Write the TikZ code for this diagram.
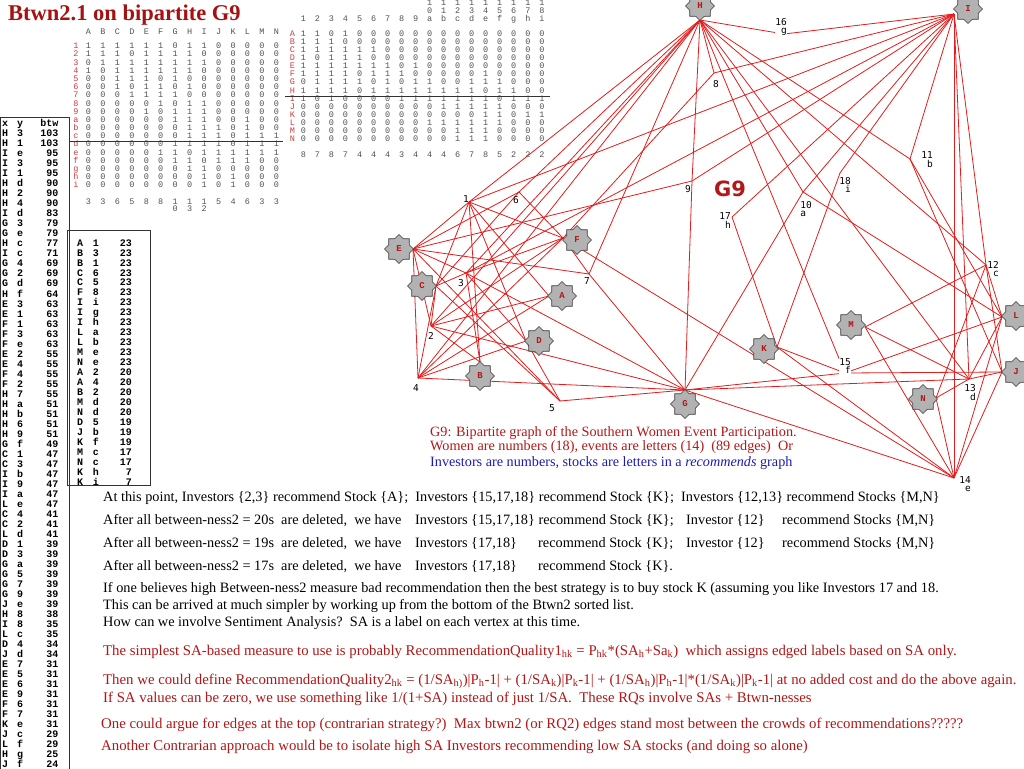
\documentclass[tikz,border=0pt]{standalone}
\usepackage{fontspec}
\usepackage{array}
\usetikzlibrary{shapes.geometric}
\setmainfont{Liberation Serif}
\newfontfamily\monofont{Liberation Mono}
\newfontfamily\wfont{DejaVu Sans Mono}
\newfontfamily\gnfont{DejaVu Sans}
\definecolor{edgered}{RGB}{228,28,28}
\definecolor{titlered}{RGB}{165,18,18}
\definecolor{capred}{RGB}{178,24,24}
\definecolor{capblue}{RGB}{28,28,178}
\definecolor{labred}{RGB}{205,60,60}
\definecolor{gearfill}{RGB}{178,178,178}
\definecolor{btred}{RGB}{178,22,22}
\newcolumntype{Q}[1]{>{\centering\arraybackslash}p{#1}}
\newcolumntype{R}[1]{>{\raggedleft\arraybackslash}p{#1}}
\newcolumntype{L}[1]{>{\raggedright\arraybackslash}p{#1}}
\newcolumntype{P}[1]{>{\centering\arraybackslash\leavevmode\color{labred}}p{#1}}
\newcommand\rowpitch[2]{\setbox\strutbox\hbox{\vrule height #1 depth #2 width 0pt}\renewcommand\arraystretch{1}\setlength\tabcolsep{0pt}}
\tikzset{
 gear/.style={star, star points=8, star point ratio=1.3, minimum size=29pt, inner sep=0pt, draw=black!75, line width=0.6pt, fill=gearfill, text=btred, font=\monofont\bfseries\fontsize{9}{9}\selectfont},
 wlab/.style={inner sep=0.3pt, font=\wfont\fontsize{9.5}{8.8}\selectfont, align=right},
 edge/.style={draw=edgered, line width=0.8pt},
 rulel/.style={draw=black!80, line width=1pt},
 btxt/.style={anchor=base west, inner sep=0pt, font=\fontsize{14.3}{15}\selectfont},
 rtxt/.style={anchor=base west, inner sep=0pt, text=btred, font=\fontsize{14.8}{15}\selectfont},
 captxt/.style={anchor=base west, inner sep=0pt, font=\fontsize{14.2}{15}\selectfont},
}
\begin{document}
\begin{tikzpicture}[x=1pt,y=-1pt]
\useasboundingbox (0,0) rectangle (1024,768);
\fill[white] (0,0) rectangle (1024,768);

% title
\node[anchor=base west, inner sep=0, font=\bfseries\fontsize{22.5}{24}\selectfont, text=titlered] (title) at (8,20.5) {Btwn2.1 on bipartite G9};

% left btw table
\draw[rulel] (0.5,117.3) -- (69,117.3) -- (69,770);
\draw[rulel] (0.5,117.3) -- (0.5,770);
\node[anchor=base west, inner sep=0, font=\monofont\bfseries\fontsize{10}{10}\selectfont] (btwtab) at (2,126.8) {\rowpitch{7.2pt}{2.8pt}%
\begin{tabular}[t]{@{}L{15pt}L{15pt}R{26.3pt}@{}}
x&y&btw\\ H&3&103\\ H&1&103\\ I&e&95\\ I&3&95\\ I&1&95\\ H&d&90\\ H&2&90\\ H&4&90\\ I&d&83\\ G&3&79\\ G&e&79\\ H&c&77\\ I&c&71\\ G&4&69\\ G&2&69\\ G&d&69\\ H&f&64\\ E&3&63\\ E&1&63\\ F&1&63\\ F&3&63\\ F&e&63\\ E&2&55\\ E&4&55\\ F&4&55\\ F&2&55\\ H&7&55\\ H&a&51\\ H&b&51\\ H&6&51\\ H&9&51\\ G&f&49\\ C&1&47\\ C&3&47\\ I&b&47\\ I&9&47\\ I&a&47\\ L&e&47\\ C&4&41\\ C&2&41\\ L&d&41\\ D&1&39\\ D&3&39\\ G&a&39\\ G&5&39\\ G&7&39\\ G&9&39\\ J&e&39\\ H&8&38\\ I&8&35\\ L&c&35\\ D&4&34\\ J&d&34\\ E&7&31\\ E&5&31\\ E&6&31\\ E&9&31\\ F&6&31\\ F&7&31\\ K&e&31\\ J&c&29\\ L&f&29\\ H&g&25\\ J&f&24
\end{tabular}};

% second table
\draw[rulel] (67.5,230.5) rectangle (150,485);
\node[anchor=base west, inner sep=0, font=\monofont\bfseries\fontsize{10}{10}\selectfont] (tabA) at (77,246.3) {\rowpitch{7.1pt}{2.8pt}%
\begin{tabular}[t]{@{}L{15.7pt}L{15pt}R{24pt}@{}}
A&1&23\\ B&3&23\\ B&1&23\\ C&6&23\\ C&5&23\\ F&8&23\\ I&i&23\\ I&g&23\\ I&h&23\\ L&a&23\\ L&b&23\\ M&e&23\\ N&e&23\\ A&2&20\\ A&4&20\\ B&2&20\\ M&d&20\\ N&d&20\\ D&5&19\\ J&b&19\\ K&f&19\\ M&c&17\\ N&c&17\\ K&h&7\\ K&i&7
\end{tabular}};

% matrix 1 (women x events)
\node[anchor=base west, inner sep=0, font=\monofont\fontsize{8.5}{8.5}\selectfont, text=black!68] (mat1) at (70.33,34.8) {\rowpitch{6.4pt}{1.78pt}%
\begin{tabular}[t]{@{}P{10.74pt}*{14}{Q{14.46pt}}@{}}
 &A&B&C&D&E&F&G&H&I&J&K&L&M&N\\[5.82pt]
1&1&1&1&1&1&1&0&1&1&0&0&0&0&0\\
2&1&1&1&0&1&1&1&1&0&0&0&0&0&0\\
3&0&1&1&1&1&1&1&1&1&0&0&0&0&0\\
4&1&0&1&1&1&1&1&1&0&0&0&0&0&0\\
5&0&0&1&1&1&0&1&0&0&0&0&0&0&0\\
6&0&0&1&0&1&1&0&1&0&0&0&0&0&0\\
7&0&0&0&1&1&1&1&0&0&0&0&0&0&0\\
8&0&0&0&0&0&1&0&1&1&0&0&0&0&0\\
9&0&0&0&0&1&0&1&1&1&0&0&0&0&0\\
a&0&0&0&0&0&0&1&1&1&0&0&1&0&0\\
b&0&0&0&0&0&0&0&1&1&1&0&1&0&0\\
c&0&0&0&0&0&0&0&1&1&1&0&1&1&1\\
d&0&0&0&0&0&0&1&1&1&1&0&1&1&1\\
e&0&0&0&0&0&1&1&0&1&1&1&1&1&1\\
f&0&0&0&0&0&0&1&1&0&1&1&1&0&0\\
g&0&0&0&0&0&0&0&1&1&0&0&0&0&0\\
h&0&0&0&0&0&0&0&0&1&0&1&0&0&0\\
i&0&0&0&0&0&0&0&0&1&0&1&0&0&0\\[8.47pt]
 &3&3&6&5&8&8&1&1&1&5&4&6&3&3\\[-0.9pt]
 & & & & & & &0&3&2& & & & & 
\end{tabular}};

% matrix 2 (events x women)
\node[anchor=base west, inner sep=0, font=\monofont\fontsize{8.5}{8.5}\selectfont, text=black!68] (mat2) at (288.3,5.5) {\rowpitch{6.4pt}{1.73pt}%
\begin{tabular}[t]{@{}P{7.98pt}*{18}{Q{14.02pt}}@{}}
 & & & & & & & & & &1&1&1&1&1&1&1&1&1\\[-0.33pt]
 & & & & & & & & & &0&1&2&3&4&5&6&7&8\\[-0.33pt]
 &1&2&3&4&5&6&7&8&9&a&b&c&d&e&f&g&h&i\\[6.87pt]
A&1&1&0&1&0&0&0&0&0&0&0&0&0&0&0&0&0&0\\
B&1&1&1&0&0&0&0&0&0&0&0&0&0&0&0&0&0&0\\
C&1&1&1&1&1&1&0&0&0&0&0&0&0&0&0&0&0&0\\
D&1&0&1&1&1&0&0&0&0&0&0&0&0&0&0&0&0&0\\
E&1&1&1&1&1&1&1&0&1&0&0&0&0&0&0&0&0&0\\
F&1&1&1&1&0&1&1&1&0&0&0&0&0&1&0&0&0&0\\
G&0&1&1&1&1&0&1&0&1&1&0&0&1&1&1&0&0&0\\
H&1&1&1&1&0&1&1&1&1&1&1&1&1&0&1&1&0&0\\
I&1&0&1&0&0&0&0&1&1&1&1&1&1&1&0&1&1&1\\
J&0&0&0&0&0&0&0&0&0&0&1&1&1&1&1&0&0&0\\
K&0&0&0&0&0&0&0&0&0&0&0&0&0&1&1&0&1&1\\
L&0&0&0&0&0&0&0&0&0&1&1&1&1&1&1&0&0&0\\
M&0&0&0&0&0&0&0&0&0&0&0&1&1&1&0&0&0&0\\
N&0&0&0&0&0&0&0&0&0&0&0&1&1&1&0&0&0&0\\[7.87pt]
 &8&7&8&7&4&4&4&3&4&4&4&6&7&8&5&2&2&2
\end{tabular}};

\draw[rulel] (69,141) -- (283,141);
\draw[rulel] (285,96) -- (550,96);

% ---------- graph ----------
% women vertices
\coordinate (w1) at (469,202);
\coordinate (w2) at (431,326);
\coordinate (w3) at (466,273);
\coordinate (w4) at (418,378);
\coordinate (w5) at (560,401);
\coordinate (w6) at (519,192);
\coordinate (w7) at (589,274);
\coordinate (w8) at (714,73);
\coordinate (w9) at (692,181);
\coordinate (wa) at (803,192);
\coordinate (wb) at (910,159);
\coordinate (wc) at (986,265);
\coordinate (wd) at (969,379);
\coordinate (we) at (954,478);
\coordinate (wf) at (845,373);
\coordinate (wg) at (784,34);
\coordinate (wh) at (732,217);
\coordinate (wi) at (840,173);
% event ports
\coordinate (pA) at (549,296);
\coordinate (pB) at (480,362);
\coordinate (pC) at (436,286);
\coordinate (pD) at (526,341);
\coordinate (pE) at (413,249);
\coordinate (pF) at (563,238);
\coordinate (pG) at (685,390);
\coordinate (pH) at (700,20);
\coordinate (pI) at (954,14);
\coordinate (pJ) at (1002,372);
\coordinate (pK) at (777,347);
\coordinate (pL) at (1002,317);
\coordinate (pM) at (865,327);
\coordinate (pN) at (936,398);

\foreach \w in {1,2,4} \draw[edge] (w\w) -- (pA);
\foreach \w in {1,2,3} \draw[edge] (w\w) -- (pB);
\foreach \w in {1,2,3,4,5,6} \draw[edge] (w\w) -- (pC);
\foreach \w in {1,3,4,5} \draw[edge] (w\w) -- (pD);
\foreach \w in {1,2,3,4,5,6,7,9} \draw[edge] (w\w) -- (pE);
\foreach \w in {1,2,3,4,6,7,8,e} \draw[edge] (w\w) -- (pF);
\foreach \w in {2,3,4,5,7,9,a,d,e,f} \draw[edge] (w\w) -- (pG);
\foreach \w in {1,2,3,4,6,7,8,9,a,b,c,d,f,g} \draw[edge] (w\w) -- (pH);
\foreach \w in {1,3,8,9,a,b,c,d,e,g,h,i} \draw[edge] (w\w) -- (pI);
\foreach \w in {b,c,d,e,f} \draw[edge] (w\w) -- (pJ);
\foreach \w in {e,f,h,i} \draw[edge] (w\w) -- (pK);
\foreach \w in {a,b,c,d,e,f} \draw[edge] (w\w) -- (pL);
\foreach \w in {c,d,e} \draw[edge] (w\w) -- (pM);
\foreach \w in {c,d,e} \draw[edge] (w\w) -- (pN);

% event gears
\node[gear] (A) at (562,296) {A};
\node[gear] (B) at (480,376) {B};
\node[gear] (C) at (422,286) {C};
\node[gear] (D) at (539,341) {D};
\node[gear] (E) at (399,249) {E};
\node[gear] (F) at (577,240) {F};
\node[gear] (G) at (685,404) {G};
\node[gear] (H) at (700,6) {H};
\node[gear] (I) at (968,9) {I};
\node[gear] (J) at (1016,372) {J};
\node[gear] (K) at (764,349) {K};
\node[gear] (L) at (1016,316) {L};
\node[gear] (M) at (851,325) {M};
\node[gear] (N) at (923,399) {N};

% women labels
\node[wlab] (l1) at (466,199) {1};
\node[wlab] (l2) at (431,336) {2};
\node[wlab] (l3) at (461,283) {3};
\node[wlab] (l4) at (416,388) {4};
\node[wlab] (l5) at (552,408) {5};
\node[wlab] (l6) at (516,200) {6};
\node[wlab] (l7) at (587,281) {7};
\node[wlab] (l8) at (716,84) {8};
\node[wlab] (l9) at (688,189) {9};
\node[wlab, align=left] (la) at (806,209) {10\\a};
\node[wlab] (lb) at (927,160) {11\\b};
\node[wlab] (lc) at (993,269) {12\\c};
\node[wlab] (ld) at (970,392.5) {13\\d};
\node[wlab] (le) at (965,484) {14\\e};
\node[wlab, fill=white] (lf) at (845,366) {15\\f};
\node[wlab, fill=white] (lg) at (781,27) {16\\g};
\node[wlab] (lh) at (725,220.5) {17\\h};
\node[wlab] (li) at (845,185) {18\\i};

\node[inner sep=0, font=\gnfont\bfseries\fontsize{21}{21}\selectfont, text=capred] (g9) at (730,188.5) {G9};

% caption
\node[captxt, text=capred] (cap1) at (430,436) {G9: Bipartite graph of the Southern Women Event Participation.};
\node[captxt, text=capred] (cap2) at (430,450.5) {Women are numbers (18), events are letters (14)\ \ (89 edges)\ \ Or};
\node[captxt, text=capblue] (cap3) at (430,466.5) {Investors are numbers, stocks are letters in a \textit{recommends} graph};

% bottom text
\node[btxt] (t1) at (103,501.6) {At this point, Investors \{2,3\} recommend Stock \{A\};\ \ Investors \{15,17,18\} recommend Stock \{K\};\ \ Investors \{12,13\} recommend Stocks \{M,N\}};
\node[btxt] (t2a) at (103,524.6) {After all between-ness2 = 20s\ \ are deleted,\ \ we have};
\node[btxt] (t2b) at (415,524.6) {Investors \{15,17,18\} recommend Stock \{K\};};
\node[btxt] (t2c) at (686,524.6) {Investor \{12\}};
\node[btxt] (t2d) at (782,524.6) {recommend Stocks \{M,N\}};
\node[btxt] (t3a) at (103,547.6) {After all between-ness2 = 19s\ \ are deleted,\ \ we have};
\node[btxt] (t3b) at (415,547.6) {Investors \{17,18\}};
\node[btxt] (t3c) at (538,547.6) {recommend Stock \{K\};};
\node[btxt] (t3d) at (686,547.6) {Investor \{12\}};
\node[btxt] (t3e) at (782,547.6) {recommend Stocks \{M,N\}};
\node[btxt] (t4a) at (103,570.6) {After all between-ness2 = 17s\ \ are deleted,\ \ we have};
\node[btxt] (t4b) at (415,570.6) {Investors \{17,18\}};
\node[btxt] (t4c) at (538,570.6) {recommend Stock \{K\}.};
\node[btxt] (t5) at (103,592.6) {If one believes high Between-ness2 measure bad recommendation then the best strategy is to buy stock K (assuming you like Investors 17 and 18.};
\node[btxt] (t6) at (103,609.6) {This can be arrived at much simpler by working up from the bottom of the Btwn2 sorted list.};
\node[btxt] (t7) at (103,626.6) {How can we involve Sentiment Analysis?\ \ SA is a label on each vertex at this time.};
\node[rtxt] (t8) at (103,655.5) {The simplest SA-based measure to use is probably RecommendationQuality1\textsubscript{hk} = P\textsubscript{hk}*(SA\textsubscript{h}+Sa\textsubscript{k})\ \ which assigns edged labels based on SA only.};
\node[rtxt] (t9) at (103,684) {Then we could define RecommendationQuality2\textsubscript{hk} = (1/SA\textsubscript{h)})|P\textsubscript{h}-1| + (1/SA\textsubscript{k})|P\textsubscript{k}-1| + (1/SA\textsubscript{h})|P\textsubscript{h}-1|*(1/SA\textsubscript{k})|P\textsubscript{k}-1| at no added cost and do the above again.};
\node[rtxt] (t10) at (103,702) {If SA values can be zero, we use something like 1/(1+SA) instead of just 1/SA.\ \ These RQs involve SAs + Btwn-nesses};
\node[rtxt] (t11) at (101,728.6) {One could argue for edges at the top (contrarian strategy?)\ \ Max btwn2 (or RQ2) edges stand most between the crowds of recommendations?????};
\node[rtxt] (t12) at (101,750.6) {Another Contrarian approach would be to isolate high SA Investors recommending low SA stocks (and doing so alone)};
\end{tikzpicture}
\end{document}
